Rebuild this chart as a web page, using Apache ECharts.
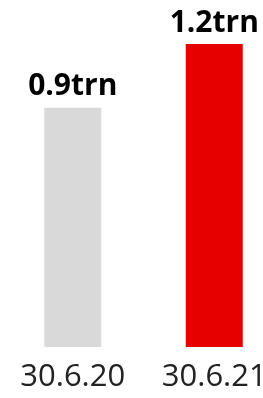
<!DOCTYPE html>
<html>
<head>
<meta charset="utf-8">
<script src="https://cdn.jsdelivr.net/npm/echarts@6/dist/echarts.min.js"></script>
<style>html,body{margin:0;padding:0;background:#fff}#c{width:263px;height:398px}</style>
</head>
<body>
<div id="c"></div>
<script>
var categories = ['30.6.20', '30.6.21'];
var values = [0.94, 1.19];
var barColors = ['#d9d9d9', '#e60000'];

var chart = echarts.init(document.getElementById('c'), null, {renderer: 'canvas'});
chart.setOption({
  animation: false,
  grid: {left: 2, width: 283, top: 44, bottom: 51, outerBoundsMode: 'none', containLabel: false},
  xAxis: {
    type: 'category',
    data: categories,
    axisLine: {show: false},
    axisTick: {show: false},
    axisLabel: {interval: 0, hideOverlap: false, fontFamily: 'Open Sans', fontSize: 31, color: '#222', margin: 15}
  },
  yAxis: {type: 'value', min: 0, max: 1.19, show: false, splitLine: {show: false}},
  series: [{
    type: 'bar',
    barWidth: 57,
    data: values.map(function (v, i) { return {value: v, itemStyle: {color: barColors[i]}}; }),
    label: {
      show: true,
      position: 'top',
      distance: 6,
      fontFamily: 'Open Sans',
      fontWeight: 'bold',
      fontSize: 30,
      color: '#000',
      formatter: function (p) { return p.value.toFixed(1) + 'trn'; }
    }
  }]
});
</script>
</body>
</html>
